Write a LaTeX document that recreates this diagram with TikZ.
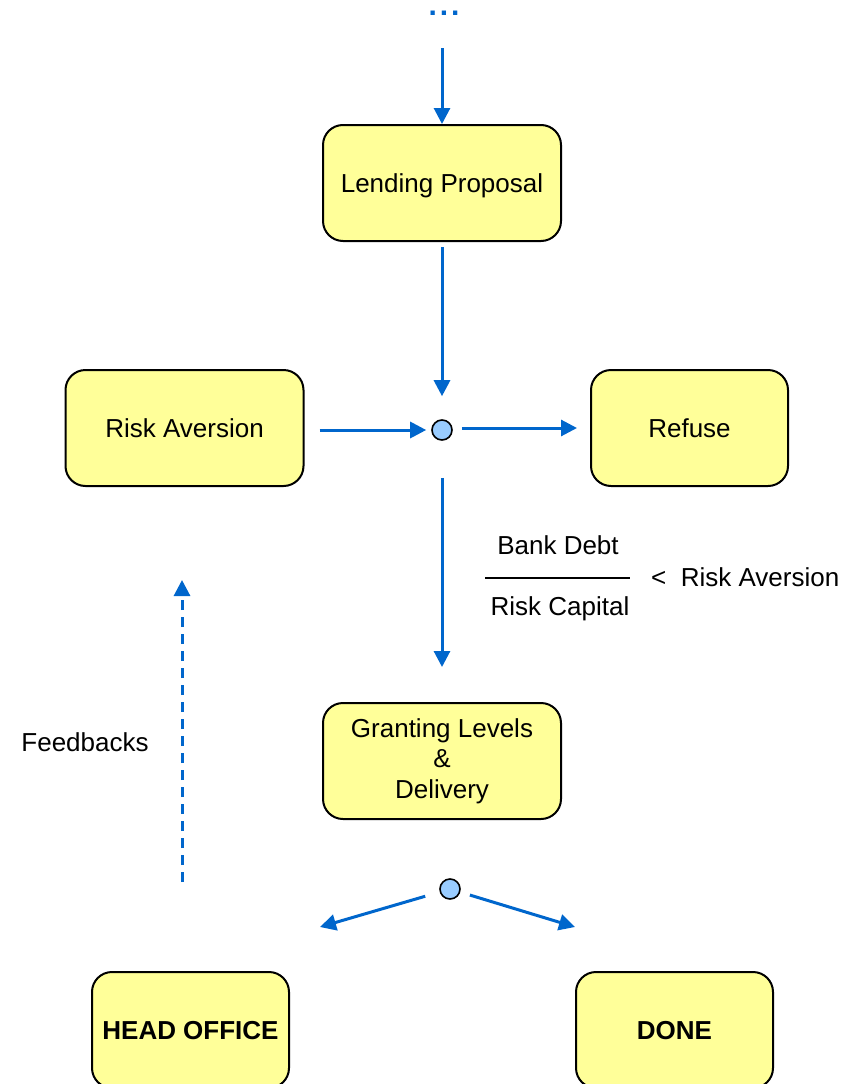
\documentclass[tikz,border=0pt]{standalone}
\usepackage{fontspec}
\setmainfont{Liberation Sans}
\usetikzlibrary{arrows.meta}
\definecolor{boxfill}{HTML}{FFFF99}
\definecolor{arrowblue}{HTML}{0066CC}
\definecolor{dotfill}{HTML}{99CCFF}
\tikzset{
  boxbase/.style={draw=black, line width=2pt, fill=boxfill, rounded corners=20pt, minimum width=238pt, minimum height=116pt, align=center, inner sep=0pt, font=\fontsize{26}{30.5}\selectfont},
  box/.style={boxbase, text height=18.6pt, text depth=0pt},
  smallbox/.style={box, minimum width=197pt},
  junction/.style={circle, draw=black, line width=1.6pt, fill=dotfill, minimum size=20pt, inner sep=0pt},
  flow/.style={draw=arrowblue, line width=3pt, -{Triangle[length=16pt,width=16pt]}},
  label/.style={font=\fontsize{26}{30}\selectfont, inner sep=0pt}
}
\begin{document}
\begin{tikzpicture}[x=1pt,y=-1pt]
\useasboundingbox (0,0) rectangle (857,1084);
\node[text=arrowblue, font=\bfseries\fontsize{30}{30}\selectfont, inner sep=0pt, text height=4pt, text depth=0pt, anchor=base] (dots) at (444,15) {.\kern3pt.\kern3pt.};
\node[box] (lend) at (442,183) {Lending Proposal};
\node[box] (risk) at (184.5,428) {Risk Aversion};
\node[smallbox] (refuse) at (689.5,428) {Refuse};
\node[junction] (j1) at (442,430) {};
\node[boxbase] (grant) at (442,761) {Granting Levels\\\&\\Delivery};
\node[junction] (j2) at (450,889) {};
\node[smallbox, font=\bfseries\fontsize{26}{30}\selectfont] (head) at (190.5,1030) {HEAD OFFICE};
\node[smallbox, font=\bfseries\fontsize{26}{30}\selectfont] (done) at (674.5,1030) {DONE};

\coordinate (topstart) at (442,48);
\coordinate (leftend) at (320,927);
\coordinate (rightend) at (575,927);
\coordinate (fbstart) at (182,882);
\coordinate (fbend) at (182,580);

\draw[flow] (topstart) -- (lend.north);
\draw[flow, shorten <=5pt, shorten >=23pt] (lend.south) -- (j1.north);
\draw[flow, shorten <=15pt, shorten >=5pt] (risk.east |- j1.west) -- (j1.west);
\draw[flow, shorten <=9pt, shorten >=13pt] (j1.east |- refuse.west) -- (refuse.west);
\draw[flow, shorten <=37pt, shorten >=35pt] (j1.south) -- (grant.north);
\draw[flow, shorten <=15pt] (j2) -- (leftend);
\draw[flow, shorten <=10pt] (j2) -- (rightend);
\draw[flow, dash pattern=on 10pt off 7pt] (fbstart) -- (fbend);

\node[label] (num) at (558,545) {Bank Debt};
\node[label] (den) at (560,609) {Risk Capital};
\coordinate (barl) at (485,578);
\coordinate (barr) at (630,578);
\draw[line width=1.3pt] (barl) -- (barr);
\node[label, anchor=west] (cmp) at (651,577) {<\ \ Risk Aversion};
\node[label] (fb) at (85,742) {Feedbacks};
\end{tikzpicture}
\end{document}
